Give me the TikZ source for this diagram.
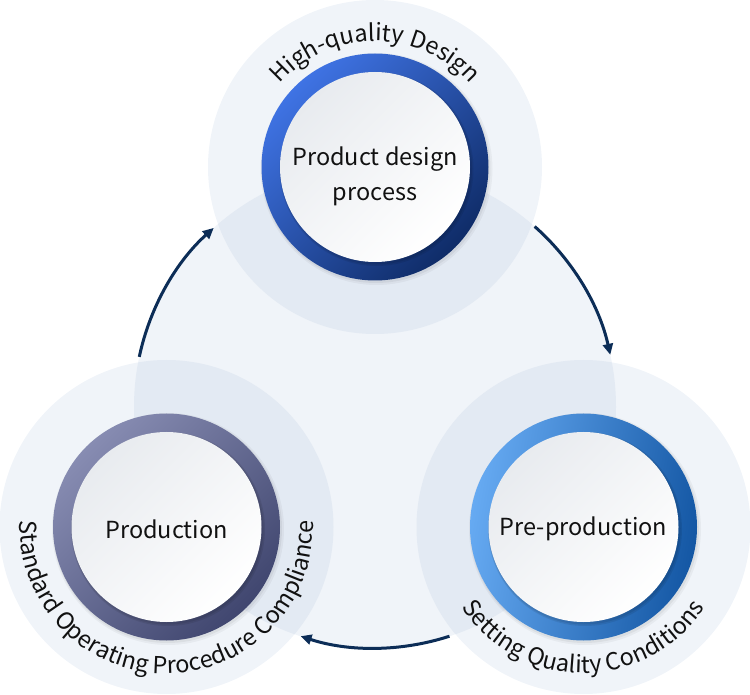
\documentclass[tikz,border=0pt]{standalone}
\usepackage{fontspec}
\setmainfont{Noto Sans CJK KR}
\usetikzlibrary{arrows.meta,decorations.text}
\definecolor{bgl}{HTML}{F0F4F9}
\definecolor{bgd}{HTML}{E3EAF3}
\definecolor{arr}{HTML}{0C2D57}
\definecolor{txt}{HTML}{111111}
\definecolor{tA}{HTML}{3F73E4}
\definecolor{tB}{HTML}{0F2C68}
\definecolor{lA}{HTML}{878CB2}
\definecolor{lB}{HTML}{40466F}
\definecolor{rA}{HTML}{66AAF2}
\definecolor{rB}{HTML}{1457A4}
\definecolor{inA}{HTML}{E8EBEF}
\definecolor{inB}{HTML}{FFFFFF}
\newcommand\curvefont{\fontsize{23.5}{28}\selectfont}
\newcommand\mainfontsz{\fontsize{23.5}{35}\selectfont}
\tikzset{
  flow/.style={draw=arr, line width=3pt, -{Triangle[length=11pt,width=10pt]}},
  ringnode/.style={circle, minimum size=227pt, inner sep=0pt},
  innernode/.style={circle, minimum size=190pt, inner sep=0pt, top color=inA, bottom color=inB, shading angle=45},
  labeltext/.style={text=txt, font=\mainfontsz, align=center, inner sep=0pt},
  curved/.style={decorate, decoration={text along path, text={|\curvefont\color{txt}|#1}, text align=center}}
}
\begin{document}
\begin{tikzpicture}[x=1pt,y=1pt]
\useasboundingbox (0,0) rectangle (750,694);
\coordinate (T) at (375,527);
\coordinate (L) at (166.5,167);
\coordinate (R) at (583.5,167);
\coordinate (C) at (375,287);
% background discs
\fill[bgl] (C) circle (241);
\foreach \p in {T,L,R} \fill[bgl] (\p) circle (167);
\begin{scope}
  \clip (C) circle (241);
  \foreach \p in {T,L,R} \fill[bgd] (\p) circle (167);
\end{scope}
% arrows
\coordinate (a1s) at ([shift={(168:241)}]C);
\coordinate (a2s) at ([shift={(48.5:241)}]C);
\coordinate (a3s) at ([shift={(-72:241)}]C);
\draw[flow] (a1s) arc[start angle=168, end angle=132, radius=241];
\draw[flow] (a2s) arc[start angle=48.5, end angle=12.5, radius=241];
\draw[flow] (a3s) arc[start angle=-72, end angle=-108, radius=241];
% shadows
\foreach \p in {T,L,R}{
  \fill[black, opacity=0.04] ([shift={(1.5,-2)}]\p) circle (116);
  \fill[black, opacity=0.05] ([shift={(1,-1.5)}]\p) circle (114.5);
}
% rings
\node[ringnode, top color=tA, bottom color=tB, shading angle=45] (tring) at (T) {};
\node[ringnode, top color=lA, bottom color=lB, shading angle=45] (lring) at (L) {};
\node[ringnode, left color=rA, right color=rB, shading angle=80] (rring) at (R) {};
\foreach \p in {T,L,R}{
  \fill[black, opacity=0.08] ([shift={(1.5,-2)}]\p) circle (97);
  \fill[black, opacity=0.08] ([shift={(1,-1.5)}]\p) circle (96);
}
% inner discs
\node[innernode] (tin) at (T) {};
\node[innernode] (lin) at (L) {};
\node[innernode] (rin) at (R) {};
\node[labeltext] (ttxt) at ([yshift=-9pt]T) {Product design\\process};
\node[labeltext] (ltxt) at ([yshift=-2pt]L) {Production};
\node[labeltext] (rtxt) at ([yshift=-2pt]R) {Pre-production};
% curved labels
\path[curved={High-quality Design}] ([shift={(180:126)}]T) arc[start angle=180, end angle=0, radius=126];
\path[curved={Setting Quality Conditions}] ([shift={(180:146)}]R) arc[start angle=180, end angle=360, radius=146];
\path[curved={Standard Operating Procedure Compliance}] ([shift={(90:146.5)}]L) arc[start angle=90, end angle=450, radius=146.5];
\end{tikzpicture}
\end{document}
